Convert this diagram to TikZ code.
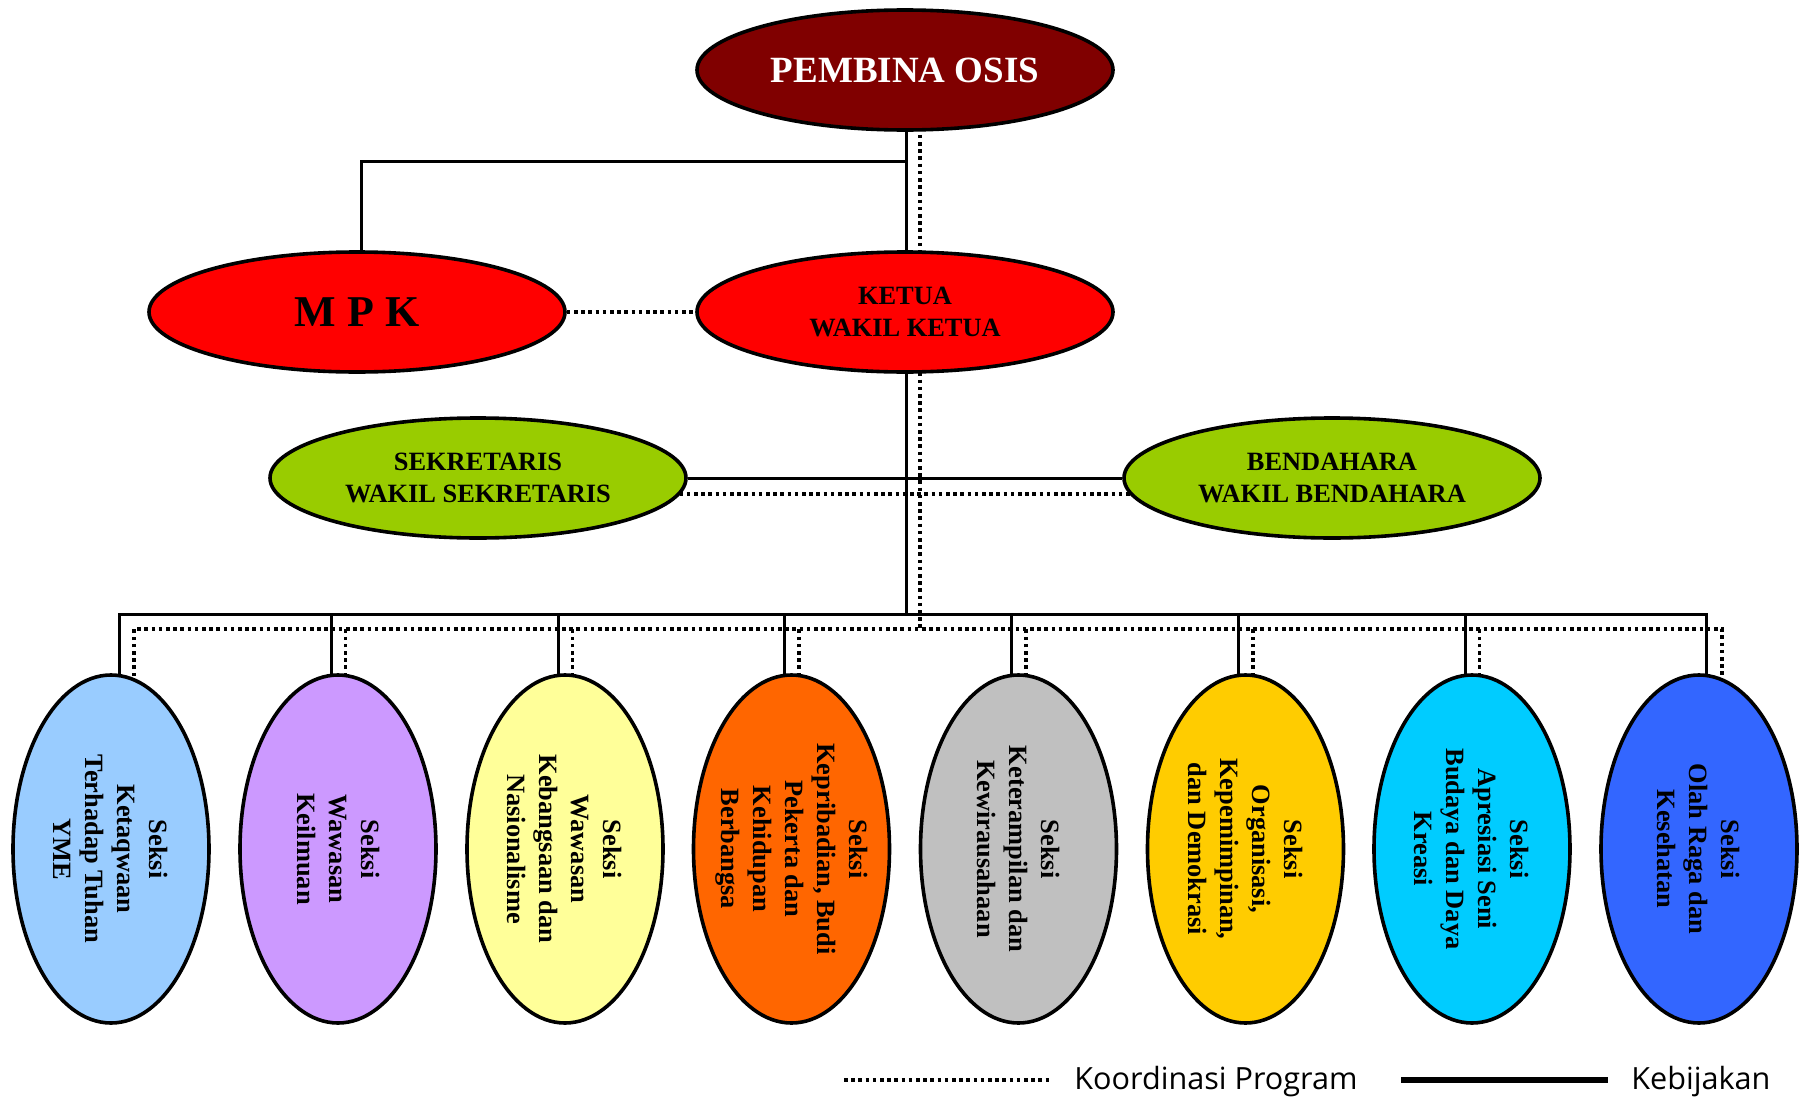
\documentclass[tikz,border=0pt]{standalone}
\usepackage{fontspec}
\setmainfont{Liberation Serif}
\newfontfamily\legfont{Open Sans}
\usetikzlibrary{shapes.geometric,backgrounds,calc}
\definecolor{cPemb}{HTML}{800000}
\definecolor{cRed}{HTML}{FF0000}
\definecolor{cGreen}{HTML}{99CC00}
\definecolor{cS1}{HTML}{99CCFF}
\definecolor{cS2}{HTML}{CC99FF}
\definecolor{cS3}{HTML}{FFFF99}
\definecolor{cS4}{HTML}{FF6600}
\definecolor{cS5}{HTML}{C0C0C0}
\definecolor{cS6}{HTML}{FFCC00}
\definecolor{cS7}{HTML}{00CCFF}
\definecolor{cS8}{HTML}{3366FF}
\tikzset{
  topell/.style={ellipse, draw=black, line width=1.8pt, inner sep=0pt,
    minimum width=208pt, minimum height=60pt, align=center,
    font=\bfseries\fontsize{13.2}{16}\selectfont},
  secell/.style={ellipse, draw=black, line width=1.8pt, inner sep=0pt,
    minimum width=98pt, minimum height=174pt},
  sectxt/.style={rotate=-90, align=center, inner sep=0pt,
    font=\bfseries\fontsize{13.2}{16}\selectfont},
  kb/.style={line width=1.5pt},
  kp/.style={line width=1.8pt, dash pattern=on 1.8pt off 1.8pt},
  legtxt/.style={anchor=west, inner sep=0pt, font=\legfont\fontsize{15.3}{17}\selectfont}
}
\begin{document}
\begin{tikzpicture}[x=0.5pt,y=-0.5pt]
\useasboundingbox (0,0) rectangle (1801,1103);
% top level
\node[topell, fill=cPemb, text=white, font=\bfseries\fontsize{18.5}{20}\selectfont] (p) at (905,70) {PEMBINA OSIS};
\node[topell, fill=cRed, font=\bfseries\fontsize{22}{24}\selectfont] (m) at (357,312) {M P K};
\node[topell, fill=cRed] (k) at (905,312) {KETUA\\WAKIL KETUA};
\node[topell, fill=cGreen] (sk) at (478,478) {SEKRETARIS\\WAKIL SEKRETARIS};
\node[topell, fill=cGreen] (bd) at (1332,478) {BENDAHARA\\WAKIL BENDAHARA};
% sections
\node[secell, fill=cS1] (s1) at (111,849) {};
\node[secell, fill=cS2] (s2) at (338,849) {};
\node[secell, fill=cS3] (s3) at (565,849) {};
\node[secell, fill=cS4] (s4) at (791.5,849) {};
\node[secell, fill=cS5] (s5) at (1018.5,849) {};
\node[secell, fill=cS6] (s6) at (1245.5,849) {};
\node[secell, fill=cS7] (s7) at (1472,849) {};
\node[secell, fill=cS8] (s8) at (1699,849) {};
\node[sectxt] (t1) at (s1) {Seksi\\Ketaqwaan\\Terhadap Tuhan\\YME};
\node[sectxt] (t2) at (s2) {Seksi\\Wawasan\\Keilmuan};
\node[sectxt] (t3) at (s3) {Seksi\\Wawasan\\Kebangsaan dan\\Nasionalisme};
\node[sectxt] (t4) at (s4) {Seksi\\Kepribadian, Budi\\Pekerta dan\\Kehidupan\\Berbangsa};
\node[sectxt] (t5) at (s5) {Seksi\\Keterampilan dan\\Kewirausahaan};
\node[sectxt] (t6) at (s6) {Seksi\\Organisasi,\\Kepemimpinan,\\dan Demokrasi};
\node[sectxt] (t7) at (s7) {Seksi\\Apresiasi Seni\\Budaya dan Daya\\Kreasi};
\node[sectxt] (t8) at (s8) {Seksi\\Olah Raga dan\\Kesehatan};
% connectors
\coordinate (mj) at (361,161);
\coordinate (bus) at (0,614);
\begin{scope}[on background layer]
  % Kebijakan (solid)
  \draw[kb] ([xshift=0.5pt]p.center) -- ([xshift=0.5pt]k.center |- bus);
  \draw[kb] ([xshift=2pt]m.center) -- (mj) -- (mj -| p.center);
  \draw[kb] (sk) -- (bd);
  \draw[kb] ([xshift=4pt]s1.center) -- ++(0,-235) -- ([xshift=3.5pt]s8.center |- bus) -- ([xshift=3.5pt]s8.center);
  \foreach \i in {2,...,7} {
    \draw[kb] ([xshift=-3.5pt]s\i.center) -- ++(0,-235);
  }
  % Koordinasi Program (dotted)
  \draw[kp] ([xshift=7.5pt]p.center) -- ++(0,559);
  \draw[kp] (m) -- (k);
  \draw[kp] ([yshift=-8pt]sk.center) -- ([yshift=-8pt]bd.center);
  \draw[kp] ([xshift=11.5pt]s1.center) -- ++(0,-220) -- ++(1588,0) -- ([xshift=11.5pt]s8.center);
  \foreach \i in {2,...,7} {
    \draw[kp] ([xshift=3.8pt]s\i.center) -- ++(0,-220);
  }
\end{scope}
% legend
\coordinate (l1a) at (844,1080);
\coordinate (l1b) at (1051,1080);
\coordinate (l2a) at (1401,1080);
\coordinate (l2b) at (1608,1080);
\draw[line width=2pt, dash pattern=on 1.8pt off 1.8pt] (l1a) -- (l1b);
\draw[line width=2.6pt] (l2a) -- (l2b);
\node[legtxt] (lk) at (1074,1082) {Koordinasi Program};
\node[legtxt] (lb) at (1631,1082) {Kebijakan};
\end{tikzpicture}
\end{document}
